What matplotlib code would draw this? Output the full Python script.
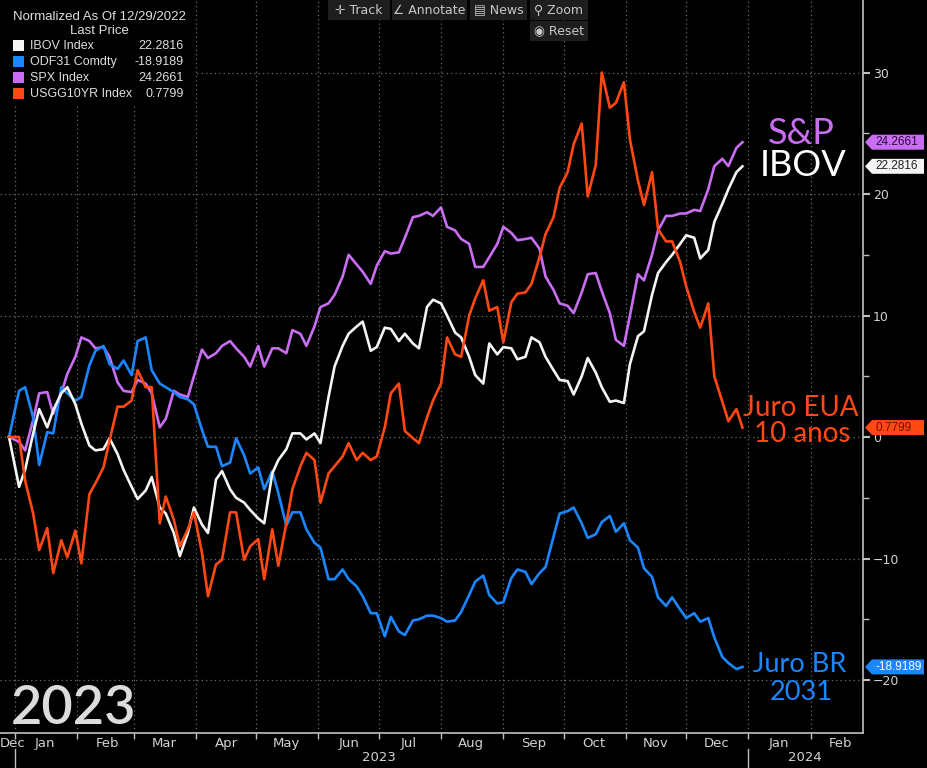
import matplotlib
matplotlib.use("Agg")
import matplotlib.pyplot as plt
import matplotlib.dates as mdates
from matplotlib.patches import Rectangle, Polygon
from matplotlib.transforms import blended_transform_factory
import pandas as pd

# Dados (normalizados em 12/29/2022), tercas e sextas
dates = [pd.Timestamp("2022-12-29")] + sorted(
    list(pd.date_range("2023-01-03", "2023-12-26", freq="W-TUE"))
    + list(pd.date_range("2023-01-06", "2023-12-29", freq="W-FRI")))

ibov = [0, -4.1, -2.7, 0.3, 2.3, 0.8, 2.2, 3.6, 4.1, 2.7, 1.1, -0.7, -1.1, -1.0, -0.1,
        -1.4, -2.7, -4.1, -5.1, -4.4, -3.3, -5.8, -6.3, -7.9, -9.8, -7.9, -5.8, -7.2, -7.9,
        -3.5, -2.8, -4.3, -5.0, -5.4, -6.0, -6.7, -7.1, -3.0, -1.9, -1.0, 0.3, 0.3, -0.2,
        0.3, -0.5, 3.3, 5.8, 7.5, 8.5, 9.1, 9.5, 7.1, 7.4, 9.0, 8.9, 7.9, 8.5, 7.7, 7.3,
        10.7, 11.3, 11.0, 10.0, 8.6, 8.2, 6.6, 5.1, 4.4, 7.7, 6.8, 7.4, 7.3, 6.4, 6.6, 8.2,
        7.8, 6.6, 5.5, 4.7, 4.6, 3.5, 5.0, 6.5, 5.3, 4.1, 2.9, 3.0, 2.8, 6.0, 8.3, 8.7,
        11.7, 13.5, 14.4, 15.0, 15.9, 16.6, 16.4, 14.7, 15.4, 17.7, 19.2, 20.4, 21.8, 22.2816]
odf31 = [0, 3.8, 4.1, 1.6, -2.3, 0.4, 0.3, 4.1, 3.6, 3.0, 3.3, 5.9, 7.1, 7.5, 6.0, 5.6,
         6.3, 5.1, 7.9, 8.2, 5.5, 4.4, 4.1, 3.7, 3.3, 3.1, 2.7, 0.6, -0.8, -0.8, -2.4, -2.1,
         -0.1, -1.5, -3.0, -2.5, -4.3, -2.8, -4.6, -7.3, -6.2, -6.2, -7.6, -8.7, -9.1, -11.7,
         -11.7, -10.9, -11.7, -12.3, -13.1, -14.5, -14.5, -16.4, -14.8, -16.0, -16.3, -15.1,
         -15.0, -14.7, -14.7, -14.9, -15.2, -15.1, -14.4, -13.0, -11.9, -11.4, -13.0, -13.7,
         -13.6, -11.6, -10.9, -11.1, -12.1, -11.2, -10.7, -8.2, -6.3, -6.1, -5.8, -7.1, -8.3,
         -8.0, -7.0, -6.5, -7.8, -7.1, -8.5, -9.1, -10.8, -11.5, -13.2, -13.9, -13.2, -14.2,
         -14.9, -14.5, -15.2, -14.9, -16.5, -18.1, -18.6, -19.1, -18.9189]
spx = [0, -0.4, -1.1, 1.4, 3.6, 3.7, 1.9, 3.6, 5.2, 6.6, 8.2, 7.9, 7.3, 7.4, 6.6, 4.5,
       3.8, 3.7, 4.7, 4.4, 3.6, 0.8, 1.5, 3.8, 3.5, 3.3, 5.0, 7.2, 6.5, 6.9, 7.5, 7.9, 7.3,
       6.6, 5.8, 7.5, 5.8, 7.3, 7.3, 6.9, 8.8, 8.5, 7.5, 9.1, 10.7, 11.0, 11.7, 13.2, 15.0,
       14.2, 13.6, 12.6, 14.1, 15.3, 15.1, 15.2, 16.4, 18.1, 18.2, 18.5, 18.2, 18.9, 17.3,
       17.0, 16.3, 15.9, 14.0, 14.0, 14.8, 15.9, 17.3, 16.8, 16.2, 16.3, 16.4, 15.5, 13.2,
       12.1, 11.0, 10.8, 10.2, 11.9, 13.4, 13.5, 12.0, 10.2, 8.0, 7.5, 10.0, 13.4, 12.9,
       15.0, 17.0, 18.2, 18.2, 18.4, 18.4, 18.7, 18.6, 20.4, 22.3, 22.9, 22.3, 23.8, 24.2661]
usgg10 = [0, 0.0, -3.6, -6.3, -9.3, -7.5, -11.2, -8.5, -9.9, -7.7, -10.4, -4.7, -3.8, -2.5,
          -0.3, 2.5, 2.5, 3.0, 5.5, 4.1, 4.1, -7.1, -4.9, -6.8, -9.0, -7.6, -6.2, -9.5, -13.1,
          -10.5, -10.1, -6.2, -6.2, -10.1, -9.0, -8.4, -11.7, -7.6, -10.6, -7.1, -4.3, -2.4,
          -1.3, -1.9, -5.4, -3.0, -2.4, -1.6, -0.5, -1.9, -1.3, -1.9, -1.6, 0.8, 3.6, 4.4, 0.5,
          -0.1, -0.5, 1.6, 3.0, 4.4, 8.2, 6.8, 6.6, 10.0, 11.4, 12.9, 10.4, 10.7, 7.8, 11.1,
          11.8, 11.9, 12.6, 14.8, 16.7, 18.1, 20.5, 21.8, 24.1, 25.8, 19.8, 22.4, 30.0, 27.1,
          27.5, 29.2, 24.5, 21.1, 19.1, 21.8, 17.1, 16.1, 16.1, 14.4, 12.4, 10.3, 9.0, 11.0,
          5.0, 2.9, 1.3, 2.3, 0.7799]

names = ["IBOV Index", "ODF31 Comdty", "SPX Index", "USGG10YR Index"]
last_vals = ["22.2816", "-18.9189", "24.2661", "0.7799"]
month_labels = ["Dec", "Jan", "Feb", "Mar", "Apr", "May", "Jun", "Jul", "Aug", "Sep",
                "Oct", "Nov", "Dec", "Jan", "Feb"]

c_ibov = "#f4f4f4"
c_odf = "#1a86ff"
c_spx = "#c96df2"
c_usg = "#ff4812"
txt = "#d2d2d2"

W, H = 927, 768
fig = plt.figure(figsize=(W / 100, H / 100), dpi=100, facecolor="black")
ax = fig.add_axes([0, 35 / H, 863 / W, 733 / H])
ax.set_facecolor("black")

ax.plot(dates, spx, color=c_spx, lw=1.9, zorder=3)
ax.plot(dates, odf31, color=c_odf, lw=1.9, zorder=3)
ax.plot(dates, ibov, color=c_ibov, lw=1.9, zorder=4)
ax.plot(dates, usgg10, color=c_usg, lw=1.9, zorder=5)

ax.set_xlim(mdates.date2num(pd.Timestamp("2022-12-24 12:00")), mdates.date2num(pd.Timestamp("2024-02-27")))
ax.set_ylim(-24.36, 35.97)

# eixos
for s in ["left", "top"]:
    ax.spines[s].set_visible(False)
for s in ["right", "bottom"]:
    ax.spines[s].set_color("#c0c0c0")
    ax.spines[s].set_linewidth(1.2)

ax.yaxis.tick_right()
ax.set_yticks([-20, -10, 0, 10, 20, 30])
ax.set_yticks([-15, -5, 5, 15, 25], minor=True)
ax.tick_params(axis="y", which="major", colors="#c0c0c0", labelcolor=txt, labelsize=9,
               length=5, width=1.5, pad=2)
ax.tick_params(axis="y", which="minor", colors="#c0c0c0", length=4, width=1)

ax.xaxis.set_major_locator(mdates.MonthLocator())
ax.xaxis.set_major_formatter(plt.NullFormatter())
mid = [pd.Timestamp("2022-12-31")] + [pd.Timestamp(y, m, 16) for y, m in
                                       [(2023, i) for i in range(1, 13)] + [(2024, 1), (2024, 2)]]
ax.xaxis.set_minor_locator(plt.FixedLocator(mdates.date2num(mid)))
ax.xaxis.set_minor_formatter(plt.FixedFormatter(month_labels))
ax.tick_params(axis="x", which="major", colors="#c0c0c0", length=4, width=1)
ax.tick_params(axis="x", which="minor", length=0, labelcolor=txt, labelsize=9.5, pad=3)

ax.grid(True, which="major", color="#6c6c6c", ls=(0, (1, 2.5)), lw=0.9)

trans = blended_transform_factory(ax.transData, ax.transAxes)
for yr_start in ["2023-01-01", "2024-01-01"]:
    xd = mdates.date2num(pd.Timestamp(yr_start))
    ax.plot([xd, xd], [-0.022, -0.047], color="#c0c0c0", lw=1, transform=trans, clip_on=False)
ax.text(mdates.date2num(pd.Timestamp("2023-07-01")), -0.033, "2023", color=txt, fontsize=9.5,
        ha="center", va="center", transform=trans)
ax.text(mdates.date2num(pd.Timestamp("2024-01-29")), -0.033, "2024", color=txt, fontsize=9.5,
        ha="center", va="center", transform=trans)

# etiquetas de ultimo preco na direita
fig.canvas.draw()
tags = [(spx[-1], c_spx, "#2a0a3a", "24.2661"), (ibov[-1], c_ibov, "#202020", "22.2816"),
        (usgg10[-1], c_usg, "#6a1000", "0.7799"), (odf31[-1], c_odf, "white", "-18.9189")]
for v, bg, fg, lab in tags:
    yd = ax.transData.transform((ax.get_xlim()[1], v))[1]
    xs = 865
    poly = Polygon([(xs, yd), (xs + 7, yd + 7.5), (924, yd + 7.5), (924, yd - 7.5), (xs + 7, yd - 7.5)],
                   closed=True, facecolor=bg, edgecolor="none", transform=None, zorder=10)
    fig.add_artist(poly)
    fig.text((xs + 10) / W, yd / H, lab, color=fg, fontsize=8.5, ha="left", va="center",
             family="Liberation Sans", zorder=11)

# textos grandes
def ptxt(x, y, s, color, size, **kw):
    fig.text(x / W, 1 - y / H, s, color=color, fontsize=size, ha="center", va="center",
             family="Lato", **kw)

ptxt(801, 133, "S&P", c_spx, 26)
ptxt(803, 166, "IBOV", "white", 26)
ptxt(801, 408, "Juro EUA", c_usg, 20)
ptxt(802, 434, "10 anos", c_usg, 20)
ptxt(800, 664, "Juro BR", c_odf, 19.5)
ptxt(801, 692, "2031", c_odf, 19.5)
fig.text(11 / W, 1 - 709 / H, "2023", color="#dcdcdc", fontsize=39, ha="left", va="center",
         family="Lato", fontweight="semibold")

# legenda estilo terminal
fig.add_artist(Rectangle((0, 1 - 105 / H), 195 / W, 105 / H, transform=fig.transFigure,
                         facecolor="black", edgecolor="none", zorder=6))
lf = dict(color="#dedede", fontsize=9, family="Liberation Sans", zorder=7)
fig.text(99 / W, 1 - 17 / H, "Normalized As Of 12/29/2022", ha="center", va="center",
         **dict(lf, fontsize=9.5))
fig.text(99 / W, 1 - 31 / H, "Last Price", ha="center", va="center", **dict(lf, fontsize=9.5))
for i, (nm, val, col) in enumerate(zip(names, last_vals, [c_ibov, c_odf, c_spx, c_usg])):
    yy = 46 + i * 16
    fig.add_artist(Rectangle((13 / W, 1 - (yy + 5) / H), 11 / W, 11 / H, transform=fig.transFigure,
                             facecolor=col, edgecolor="none", zorder=7))
    fig.text(30 / W, 1 - yy / H, nm, ha="left", va="center", **lf)
    fig.text(184 / W, 1 - yy / H, val, ha="right", va="center", **lf)

# barra de ferramentas
buttons = [(328, 390, "\u271b Track"), (392, 467, "\u2220 Annotate"), (470, 527, "\u25a4 News"),
           (530, 588, "\u26b2 Zoom")]
for x0, x1, lab in buttons:
    fig.add_artist(Rectangle((x0 / W, 1 - 20 / H), (x1 - x0) / W, 20 / H, transform=fig.transFigure,
                             facecolor="#1e1e1e", edgecolor="none", zorder=6))
    fig.text((x0 + x1) / 2 / W, 1 - 10 / H, lab, color="#c8c8c8", fontsize=9, ha="center",
             va="center", family="DejaVu Sans", zorder=7)
fig.add_artist(Rectangle((530 / W, 1 - 41 / H), 58 / W, 20 / H, transform=fig.transFigure,
                         facecolor="#1e1e1e", edgecolor="none", zorder=6))
fig.text(559 / W, 1 - 31 / H, "\u25c9 Reset", color="#c8c8c8", fontsize=9, ha="center",
         va="center", family="DejaVu Sans", zorder=7)

fig.savefig("out.png", dpi=100, facecolor="black")
